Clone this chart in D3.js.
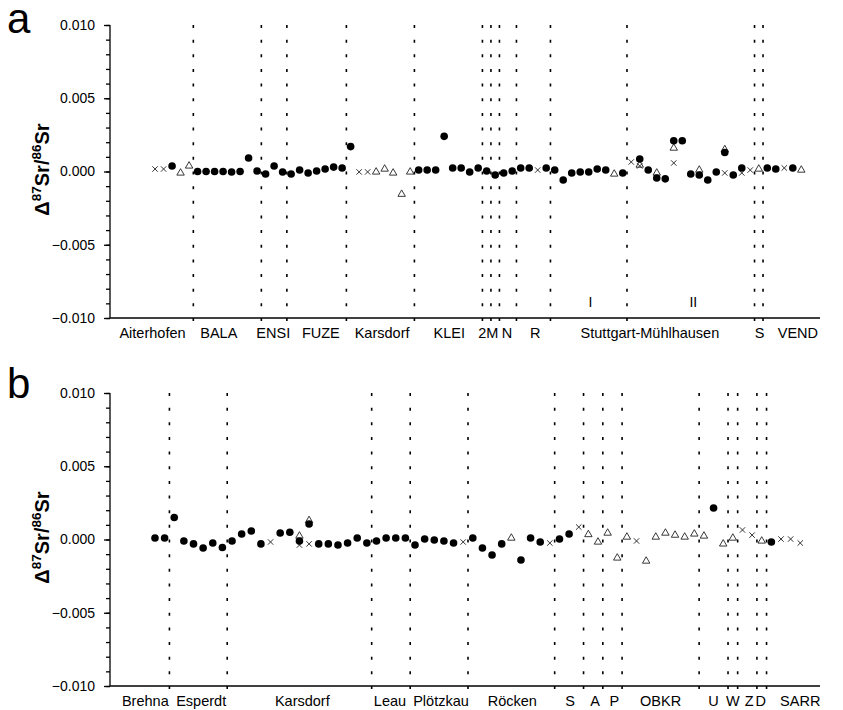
<!DOCTYPE html>
<html>
<head>
<meta charset="utf-8">
<script src="https://cdn.jsdelivr.net/npm/d3@7/dist/d3.min.js"></script>
<style>
  body { margin: 0; background: #fff; }
  svg { display: block; font-family: "Liberation Sans", Arial, sans-serif; }
</style>
</head>
<body>
<div class="chart"></div>
<script>
var w = 843,
  h = 710;

// panel a: sample index, delta 87Sr/86Sr
var aCircles = [[2,0.00038],[5,0],[6,0],[7,0],[8,0],[9,-0.00003],[10,0],[11,0.00092],[12,0.00003],[13,-0.00017],[14,0.00038],[15,-0.00003],
  [16,-0.00017],[17,0.0001],[18,-0.0001],[19,0.00003],[20,0.00017],[21,0.0003],[22,0.00024],[23,0.0017],[31,0.0001],[32,0.0001],[33,0.0001],
  [34,0.0024],[35,0.00024],[36,0.00024],[37,-0.00003],[38,0.00024],[39,0.00003],[40,-0.00024],[41,-0.0001],[42,0.00003],[43,0.00024],
  [44,0.00024],[46,0.00024],[47,0.0001],[48,-0.00058],[49,-0.0001],[50,-0.00003],[51,-0.00003],[52,0.00017],[53,0.0001],[55,-0.0001],
  [57,0.00085],[58,0.0001],[59,-0.00044],[60,-0.0005],[61,0.0021],[62,0.0021],[63,-0.00017],[64,-0.00024],[65,-0.00058],[66,-0.00003],
  [67,0.0013],[68,-0.00024],[69,0.00024],[72,0.00024],[73,0.00017],[75,0.00024]];
var aCrosses = [[0,0.00017],[1,0.00017],[24,-0.00003],[25,-0.00003],[45,0.0001],[56,0.00065],[57,0.00038],[61,0.00058],[67,-0.0001],
  [69,-0.0001],[70,0.0001],[74,0.00024]];
var aTriangles = [[3,-0.0001],[4,0.00038],[26,-0.00003],[27,0.00017],[28,-0.0001],[29,-0.00155],[30,-0.00003],[54,-0.00017],[57,0.00044],
  [59,-0.0001],[61,0.0016],[64,0.0001],[67,0.0015],[71,0.00017],[76,0.0001]];
var aDividers = [4.5, 12.5, 15.5, 22.5, 30.5, 38.5, 39.5, 40.5, 42.5, 46.5, 55.5, 70.5, 71.5];
var aSites = ['Aiterhofen', 'BALA', 'ENSI', 'FUZE', 'Karsdorf', 'KLEI', '2M', 'N', 'R', 'Stuttgart-Mühlhausen', 'S', 'VEND'];
var aSiteAt = [-0.3, 7.5, 13.9, 19.5, 26.7, 34.6, 39.2, 41.4, 44.7, 58.2, 71.1, 75.6];
var aPhases = ['I', 'II'];
var aPhaseAt = [51.2, 63.3];

// panel b
var bCircles = [[0,0.0001],[1,0.0001],[2,0.0015],[3,-0.0001],[4,-0.0003],[5,-0.00058],[6,-0.00024],[7,-0.00055],[8,-0.0001],[9,0.00038],
  [10,0.00058],[11,-0.0003],[13,0.00044],[14,0.0005],[15,-0.0001],[16,0.00106],[17,-0.0003],[18,-0.0003],[19,-0.00038],[20,-0.00024],
  [21,0.0001],[22,-0.00024],[23,-0.0001],[24,0.0001],[25,0.0001],[26,0.0001],[27,-0.00038],[28,0.00003],[29,-0.00003],[30,-0.0001],
  [31,-0.00024],[33,0.0001],[34,-0.00058],[35,-0.00106],[36,-0.0003],[38,-0.0014],[39,0.0001],[40,-0.00017],[42,0.00003],[43,0.00038],
  [58,0.00215],[64,-0.00017]];
var bCrosses = [[12,-0.00017],[15,-0.00038],[16,-0.0003],[32,-0.00017],[41,-0.00024],[44,0.00085],[50,-0.0001],[61,0.00065],[62,0.0003],
  [65,0.00003],[66,0.00003],[67,-0.00024]];
var bTriangles = [[15,0.00024],[16,0.0013],[37,0.0001],[45,0.00034],[46,-0.00017],[47,0.00044],[48,-0.00126],[49,0.00017],[51,-0.00147],
  [52,0.00017],[53,0.00044],[54,0.0003],[55,0.00017],[56,0.00038],[57,0.00024],[59,-0.0003],[60,0.0001],[63,-0.0001]];
var bDividers = [1.5, 7.5, 22.5, 26.5, 32.5, 41.5, 44.5, 46.5, 48.5, 56.5, 59.5, 60.5, 62.5, 63.5];
var bSites = ['Brehna', 'Esperdt', 'Karsdorf', 'Leau', 'Plötzkau', 'Röcken', 'S', 'A', 'P', 'OBKR', 'U', 'W', 'Z', 'D', 'SARR'];
var bSiteAt = [-1.0, 4.8, 15.3, 24.4, 29.7, 37.1, 43.1, 45.7, 47.7, 52.5, 58.0, 60.0, 61.7, 62.9, 67.0];

var yTicks = [-0.010, -0.005, 0, 0.005, 0.010];

var svg = d3.select('.chart')
  .append('svg')
  .attr('width', w)
  .attr('height', h);

var drawPanel = function (opt) {
  var x = d3.scaleLinear().domain(opt.xDomain).range([110, 820]);
  var y = d3.scaleLinear().domain([-0.010, 0.010]).range([opt.bottom, opt.top]);
  var g = svg.append('g');

  // minor ticks
  g.append('g')
    .attr('transform', 'translate(110,0)')
    .call(d3.axisLeft(y).tickValues(d3.range(-10, 11).map(function (d) { return d / 1000; })).tickSize(4).tickFormat(''))
    .call(function (s) { s.select('.domain').remove(); });

  var yAxis = g.append('g')
    .attr('transform', 'translate(110,0)')
    .call(d3.axisLeft(y).tickValues(yTicks).tickSize(6).tickPadding(9).tickFormat(d3.format('.3f')));
  yAxis.select('.domain').attr('d', 'M0,' + opt.top + 'V' + opt.bottom);
  yAxis.selectAll('text').style('font-size', '14px').style('font-family', '"Liberation Sans", Arial, sans-serif');
  yAxis.selectAll('line, path').attr('stroke', '#000').attr('stroke-width', 1.3);
  g.selectAll('.tick line').attr('stroke', '#000').attr('stroke-width', 1.3);

  // bottom line
  g.append('line')
    .attr('x1', 110).attr('x2', 820)
    .attr('y1', opt.bottom).attr('y2', opt.bottom)
    .attr('stroke', '#000').attr('stroke-width', 1.5);

  // site dividers
  g.selectAll('.div')
    .data(opt.dividers)
    .enter()
    .append('line')
    .attr('x1', function (d) { return x(d); })
    .attr('x2', function (d) { return x(d); })
    .attr('y1', opt.bottom + 3)
    .attr('y2', opt.top)
    .attr('stroke', '#000')
    .attr('stroke-width', 1.6)
    .attr('stroke-dasharray', '3,11.65');

  // triangles
  g.selectAll('.tri')
    .data(opt.triangles)
    .enter()
    .append('path')
    .attr('d', d3.symbol().type(d3.symbolTriangle).size(24))
    .attr('transform', function (d) { return 'translate(' + x(d[0]) + ',' + y(d[1]) + ')'; })
    .attr('fill', '#fff')
    .attr('stroke', '#222')
    .attr('stroke-width', 0.9);

  // crosses
  g.selectAll('.cross')
    .data(opt.crosses)
    .enter()
    .append('path')
    .attr('d', 'M-2.7,-2.7L2.7,2.7M-2.7,2.7L2.7,-2.7')
    .attr('transform', function (d) { return 'translate(' + x(d[0]) + ',' + y(d[1]) + ')'; })
    .attr('fill', 'none')
    .attr('stroke', '#333')
    .attr('stroke-width', 1);

  // circles
  g.selectAll('.dot')
    .data(opt.circles)
    .enter()
    .append('circle')
    .attr('cx', function (d) { return x(d[0]); })
    .attr('cy', function (d) { return y(d[1]); })
    .attr('r', 3.8)
    .attr('fill', '#000');

  // site names
  g.selectAll('.site')
    .data(opt.sites)
    .enter()
    .append('text')
    .attr('x', function (d, i) { return x(opt.siteAt[i]); })
    .attr('y', opt.bottom + 20)
    .attr('text-anchor', 'middle')
    .style('font-size', '14.5px')
    .text(function (d) { return d; });

  // axis title
  var t = g.append('text')
    .attr('transform', 'translate(49,' + (y(0) - 2) + ') rotate(-90)')
    .attr('text-anchor', 'middle')
    .style('font-size', '20px')
    .style('font-weight', 'bold');
  t.append('tspan').text('Δ');
  t.append('tspan').attr('dy', -8).style('font-size', '13.5px').text('87');
  t.append('tspan').attr('dy', 8).text('Sr/');
  t.append('tspan').attr('dy', -8).style('font-size', '13.5px').text('86');
  t.append('tspan').attr('dy', 8).text('Sr');

  g.append('text')
    .attr('x', 7)
    .attr('y', opt.top + opt.letterDy)
    .style('font-size', '42px')
    .text(opt.letter);

  return x;
};

var xa = drawPanel({
  top: 25, bottom: 318, xDomain: [-5.3, 78.2], letter: 'a', letterDy: 8,
  circles: aCircles, crosses: aCrosses, triangles: aTriangles,
  dividers: aDividers, sites: aSites, siteAt: aSiteAt
});

svg.selectAll('.phase')
  .data(aPhases)
  .enter()
  .append('text')
  .attr('x', function (d, i) { return xa(aPhaseAt[i]); })
  .attr('y', 307)
  .attr('text-anchor', 'middle')
  .style('font-size', '14px')
  .text(function (d) { return d; });

drawPanel({
  top: 393, bottom: 686, xDomain: [-4.67, 69.05], letter: 'b', letterDy: 5,
  circles: bCircles, crosses: bCrosses, triangles: bTriangles,
  dividers: bDividers, sites: bSites, siteAt: bSiteAt
});
</script>
</body>
</html>
